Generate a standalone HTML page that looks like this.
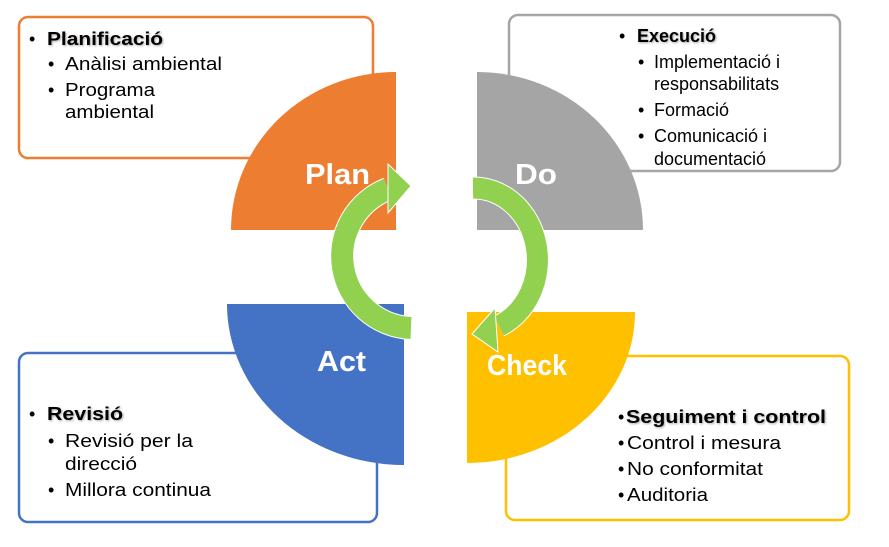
<!DOCTYPE html>
<html><head><meta charset="utf-8"><style>
html,body{margin:0;padding:0;background:#fff;}
svg{display:block;}
text{font-family:"Liberation Sans",Arial,sans-serif;font-size:18px;fill:#000;}
.b{font-weight:bold;}
.lbl{font-weight:bold;font-size:29px;fill:#fff;}
</style></head><body>
<svg width="889" height="547" viewBox="0 0 889 547" xmlns="http://www.w3.org/2000/svg">
<defs><filter id="sh" x="-5%" y="-20%" width="110%" height="140%"><feDropShadow dx="1" dy="1" stdDeviation="1" flood-color="#000" flood-opacity="0.35"/></filter></defs>
<!-- boxes -->
<rect x="19" y="17" width="354" height="141" rx="9" fill="#fff" stroke="#ed7d31" stroke-width="2.5"/>
<rect x="509" y="15" width="331" height="156" rx="9" fill="#fff" stroke="#a5a5a5" stroke-width="2.5"/>
<rect x="19" y="353" width="358" height="169" rx="9" fill="#fff" stroke="#4472c4" stroke-width="2.5"/>
<rect x="506" y="356" width="343" height="164" rx="9" fill="#fff" stroke="#ffc000" stroke-width="2.5"/>
<!-- quadrants -->
<path d="M396,230 L231,230 A165,158 0 0 1 396,72 Z" fill="#ed7d31"/>
<path d="M477,230 L477,72 A166,158 0 0 1 643,230 Z" fill="#a5a5a5"/>
<path d="M404,304 L404,465 A177,161 0 0 1 227,304 Z" fill="#4472c4"/>
<path d="M467,312 L635,312 A168,151 0 0 1 467,463 Z" fill="#ffc000"/>
<!-- labels -->
<text class="lbl" x="305" y="184" textLength="65" lengthAdjust="spacingAndGlyphs">Plan</text>
<text class="lbl" x="515" y="184" textLength="42" lengthAdjust="spacingAndGlyphs">Do</text>
<text class="lbl" x="317" y="371" textLength="49" lengthAdjust="spacingAndGlyphs">Act</text>
<text class="lbl" x="487" y="375" textLength="80" lengthAdjust="spacingAndGlyphs">Check</text>
<!-- arrows -->
<path d="M411,328 A72,72 0 0 1 388,189" fill="none" stroke="#fff" stroke-width="24"/>
<path d="M411,328 A72,72 0 0 1 388,189" fill="none" stroke="#92d050" stroke-width="22"/>
<polygon points="411,186 388,164 388,213" fill="#92d050" stroke="#fff" stroke-width="1"/>
<path d="M473,188 A64,72 0 0 1 499,326" fill="none" stroke="#fff" stroke-width="23"/>
<path d="M473,188 A64,72 0 0 1 499,326" fill="none" stroke="#92d050" stroke-width="21"/>
<polygon points="472,334 495,308 498,352" fill="#92d050" stroke="#fff" stroke-width="1"/>
<!-- Plan text -->
<text x="29" y="45">•</text><text class="b" x="47" y="45" filter="url(#sh)" textLength="116" lengthAdjust="spacingAndGlyphs">Planificació</text>
<text x="48" y="70">•</text><text x="65" y="70" textLength="157" lengthAdjust="spacingAndGlyphs">Anàlisi ambiental</text>
<text x="48" y="96">•</text><text x="65" y="96" textLength="90" lengthAdjust="spacingAndGlyphs">Programa</text>
<text x="65" y="118" textLength="89" lengthAdjust="spacingAndGlyphs">ambiental</text>
<!-- Do text -->
<text x="619" y="42">•</text><text class="b" x="637" y="42" filter="url(#sh)">Execució</text>
<text x="638" y="68">•</text><text x="654" y="68">Implementació i</text>
<text x="654" y="90">responsabilitats</text>
<text x="638" y="116">•</text><text x="654" y="116">Formació</text>
<text x="638" y="142">•</text><text x="654" y="142">Comunicació i</text>
<text x="654" y="165">documentació</text>
<!-- Act text -->
<text x="29" y="420">•</text><text class="b" x="47" y="420" filter="url(#sh)" textLength="76" lengthAdjust="spacingAndGlyphs">Revisió</text>
<text x="48" y="447">•</text><text x="65" y="447" textLength="128" lengthAdjust="spacingAndGlyphs">Revisió per la</text>
<text x="65" y="470" textLength="72" lengthAdjust="spacingAndGlyphs">direcció</text>
<text x="48" y="496">•</text><text x="65" y="496" textLength="146" lengthAdjust="spacingAndGlyphs">Millora continua</text>
<!-- Check text -->
<text x="618" y="423">•</text><text class="b" x="626" y="423" filter="url(#sh)" textLength="200" lengthAdjust="spacingAndGlyphs">Seguiment i control</text>
<text x="618" y="449">•</text><text x="627" y="449" textLength="154" lengthAdjust="spacingAndGlyphs">Control i mesura</text>
<text x="618" y="475">•</text><text x="627" y="475" textLength="136" lengthAdjust="spacingAndGlyphs">No conformitat</text>
<text x="618" y="501">•</text><text x="627" y="501" textLength="81" lengthAdjust="spacingAndGlyphs">Auditoria</text>
</svg>
</body></html>
